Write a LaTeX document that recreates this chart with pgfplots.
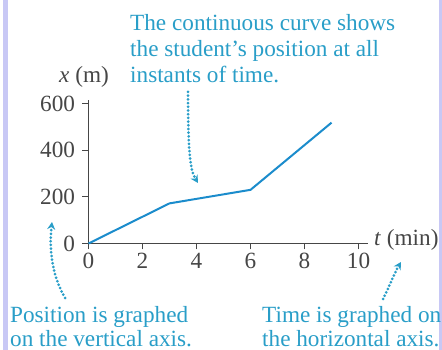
\documentclass[border=0pt]{standalone}
\usepackage{fontspec}
\setmainfont{Liberation Serif}
\usepackage{pgfplots}
\pgfplotsset{compat=1.18}
\usetikzlibrary{arrows.meta}
\definecolor{curveblue}{RGB}{27,140,204}
\definecolor{notecyan}{RGB}{41,158,200}
\definecolor{axisgray}{RGB}{70,70,70}
\definecolor{framelav}{RGB}{200,200,245}
\newcommand{\notefont}{\fontsize{23.3}{28}\selectfont}

\begin{document}
\begin{tikzpicture}
% page and side rules
\fill[white] (0,0) rectangle (442bp,350bp);
\fill[framelav] (2.5bp,0) rectangle (8bp,350bp);
\fill[framelav] (439bp,0) rectangle (442bp,350bp);

\begin{axis}[
  at={(88.5bp,106.5bp)}, anchor=south west,
  scale only axis, width=279.5bp, height=143.5bp,
  xmin=0, xmax=10.35, ymin=0, ymax=615,
  axis x line*=bottom, axis y line*=left,
  xtick={0,2,4,6,8,10}, ytick={0,200,400,600},
  tick align=outside, major tick length=6bp,
  axis line style={axisgray, line width=1bp},
  tick style={axisgray, line width=1bp},
  tick label style={font=\notefont, text=axisgray},
  yticklabel style={xshift=-4bp},
  /pgf/number format/assume math mode=true,
  clip=false,
]
% position of the student against time
\addplot[curveblue, line width=2bp] coordinates {(0,0) (3,172) (6,230) (9,518)};
\end{axis}

\begin{scope}[x=1bp, y=1bp, every node/.style={font=\notefont, inner sep=0pt, anchor=base west}]
  \node[text=axisgray] at (59,268) {\textit{x} (m)};
  \node[text=axisgray] at (374,105) {\textit{t} (min)};

  \node[text=notecyan] at (130,320) {The continuous curve shows};
  \node[text=notecyan] at (130,294) {the student’s position at all};
  \node[text=notecyan] at (130,268) {instants of time.};

  \node[text=notecyan] at (10,28) {Position is graphed};
  \node[text=notecyan] at (10,4) {on the vertical axis.};

  \node[text=notecyan] at (262,28) {Time is graphed on};
  \node[text=notecyan] at (262,4) {the horizontal axis.};

  \begin{scope}[notecyan, line width=3bp, line cap=round, dash pattern=on 0pt off 3.7bp]
    \draw[-{Stealth[length=7.5bp,width=8bp]}] (188,258) .. controls (188,200) and (190,180) .. (198,167);
    \draw[-{Stealth[length=7.5bp,width=8bp]}] (65,52) .. controls (52,75) and (49,100) .. (52,128);
    \draw[-{Stealth[length=7.5bp,width=8bp]}] (383,51) .. controls (390,65) and (395,78) .. (401,88);
  \end{scope}
\end{scope}
\end{tikzpicture}
\end{document}
